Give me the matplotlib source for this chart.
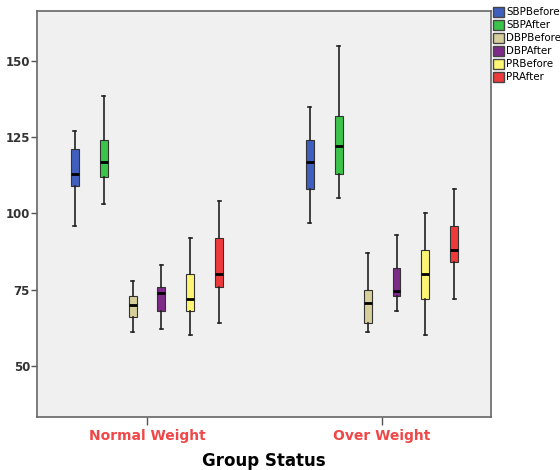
import matplotlib.pyplot as plt
from matplotlib.patches import Patch

# Data (per series: Normal Weight, Over Weight)
groups = ["Normal Weight", "Over Weight"]
series = ["SBPBefore", "SBPAfter", "DBPBefore", "DBPAfter", "PRBefore", "PRAfter"]
colors = ["#3F5FBF", "#3CC34A", "#D6CF9C", "#7E2A88", "#FFF574", "#EE3A3A"]

whislo = [[96, 97], [103, 105], [61, 61], [62, 68], [60, 60], [64, 72]]
q1 = [[109, 108], [112, 113], [66, 64], [68, 73], [68, 72], [76, 84]]
med = [[113, 117], [117, 122], [70, 70.7], [74, 74.6], [72, 80], [80, 88]]
q3 = [[121, 124], [124, 132], [73, 75], [76, 82], [80, 88], [92, 96]]
whishi = [[127, 135], [138.5, 155], [78, 87], [83, 93], [92, 100], [104, 108]]

fig = plt.figure(figsize=(5.6, 4.7), dpi=100)
ax = fig.add_axes([0.066, 0.113, 0.811, 0.864])
ax.set_facecolor("#F0F0F0")

spacing = 0.123
width = 0.034
for i, name in enumerate(series):
    stats = []
    for g in range(len(groups)):
        stats.append({"whislo": whislo[i][g], "q1": q1[i][g], "med": med[i][g],
                      "q3": q3[i][g], "whishi": whishi[i][g], "fliers": []})
    pos = [g + (i - 2.5) * spacing for g in range(len(groups))]
    ax.bxp(stats, positions=pos, widths=width, patch_artist=True,
           showfliers=False, manage_ticks=False,
           boxprops=dict(facecolor=colors[i], edgecolor="#333333", linewidth=0.8),
           medianprops=dict(color="black", linewidth=2),
           whiskerprops=dict(color="#222222", linewidth=1.2),
           capprops=dict(color="#222222", linewidth=1.2),
           capwidths=0.012)

ax.set_xlim(-0.468, 1.464)
ax.set_ylim(33.3, 166.4)
ax.set_yticks([50, 75, 100, 125, 150])
ax.set_yticklabels(["50", "75", "100", "125", "150"], fontsize=8.5,
                   fontweight="bold", color="#333333")
ax.set_xticks([0, 1])
ax.set_xticklabels(groups, fontsize=10, fontweight="bold", color="#F04848")
ax.tick_params(axis="y", length=4, width=1, color="#555555", pad=1)
ax.tick_params(axis="x", length=6, width=1, color="#555555", pad=3)
for s in ax.spines.values():
    s.set_color("#666666")
    s.set_linewidth(1.2)
ax.set_xlabel("Group Status", fontsize=12, fontweight="bold", labelpad=6)

handles = [Patch(facecolor=c, edgecolor="#444444", label=n) for c, n in zip(colors, series)]
fig.legend(handles=handles, loc="upper left", bbox_to_anchor=(0.876, 0.99),
           frameon=False, fontsize=7.4, handlelength=1.1, handleheight=1.1,
           handletextpad=0.2, labelspacing=0.25, borderaxespad=0, borderpad=0.2)

fig.savefig("out.png", dpi=100)
